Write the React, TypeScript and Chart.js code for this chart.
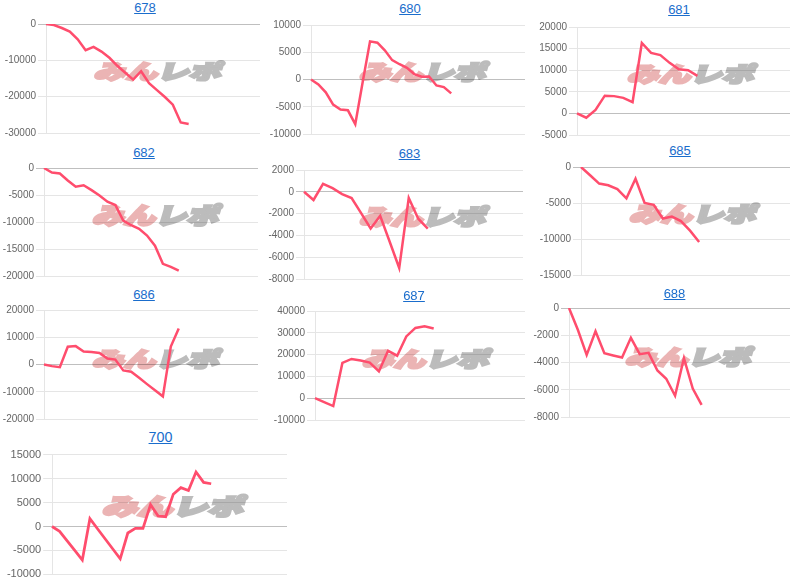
import React, { useEffect, useRef } from "react";
import { Chart, registerables } from "chart.js";

Chart.register(...registerables);

// ---------------- data ----------------
const values678 = [0, -300, -1100, -2100, -4200, -7200, -6300, -7600, -9300, -11500, -13400, -15300, -13000, -16300, -18200, -20100, -22200, -27100, -27500];
const values680 = [0, -900, -2350, -4600, -5500, -5650, -8200, -500, 7000, 6750, 5350, 3550, 2800, 2150, 1000, 500, 550, -1100, -1400, -2550];
const values681 = [0, -1000, 800, 4100, 4000, 3600, 2600, 16300, 14000, 13500, 11700, 10200, 10000, 8700];
const values682 = [0, -850, -1030, -2300, -3450, -3200, -4100, -5100, -6250, -6850, -9750, -10600, -11250, -12500, -14400, -17750, -18300, -19000];
const values683 = [0, -750, 720, 330, -210, -570, -1960, -3370, -2200, -4580, -6990, -570, -2470, -3370];
const values685 = [0, -1150, -2300, -2540, -3080, -4350, -1630, -4980, -5260, -7160, -6890, -7520, -8840, -10420];
const values686 = [0, -600, -960, 6500, 6750, 4800, 4580, 4200, 2170, 1800, -2170, -2650, -4900, -7200, -9450, -11690, 6600, 13250];
const values687 = [0, -1800, -3600, 16200, 18000, 17250, 16350, 12300, 21750, 19500, 28350, 32250, 33000, 31950];
const values688 = [0, -1600, -3440, -1710, -3320, -3480, -3630, -2190, -3390, -3290, -4590, -5190, -6440, -3680, -5910, -7110];
const values700 = [0, -1000, -3000, -5000, -7000, 1630, -470, -2560, -4650, -6750, -1360, -410, -410, 4560, 2180, 2040, 6740, 8100, 7490, 11370, 9200, 8920];

const ticks678 = [0, -10000, -20000, -30000];
const ticks680 = [10000, 5000, 0, -5000, -10000];
const ticks681 = [20000, 15000, 10000, 5000, 0, -5000];
const ticks682 = [0, -5000, -10000, -15000, -20000];
const ticks683 = [2000, 0, -2000, -4000, -6000, -8000];
const ticks685 = [0, -5000, -10000, -15000];
const ticks686 = [20000, 10000, 0, -10000, -20000];
const ticks687 = [40000, 30000, 20000, 10000, 0, -10000];
const ticks688 = [0, -2000, -4000, -6000, -8000];
const ticks700 = [15000, 10000, 5000, 0, -5000, -10000];

// number of (hidden) category slots on each x axis
const slots678 = 28;
const slots680 = 30;
const slots681 = 24;
const slots682 = 28;
const slots683 = 24;
const slots685 = 24;
const slots686 = 28;
const slots687 = 24;
const slots688 = 26;
const slots700 = 32;

const charts = [
  { id: "678", values: values678, ticks: ticks678, slots: slots678 },
  { id: "680", values: values680, ticks: ticks680, slots: slots680 },
  { id: "681", values: values681, ticks: ticks681, slots: slots681 },
  { id: "682", values: values682, ticks: ticks682, slots: slots682 },
  { id: "683", values: values683, ticks: ticks683, slots: slots683 },
  { id: "685", values: values685, ticks: ticks685, slots: slots685 },
  { id: "686", values: values686, ticks: ticks686, slots: slots686 },
  { id: "687", values: values687, ticks: ticks687, slots: slots687 },
  { id: "688", values: values688, ticks: ticks688, slots: slots688 },
  { id: "700", values: values700, ticks: ticks700, slots: slots700 },
];

// ---------------- layout (page px) ----------------
type Frame = { plot: number[]; title: number[]; logo: number[]; k: number };
const frames: Record<string, Frame> = {
  "678": { plot: [46, 23, 260, 134], title: [145, 8], logo: [92, 60, 227, 82], k: 1 },
  "680": { plot: [311, 24, 525, 135], title: [410, 8.3], logo: [357, 60, 492, 83], k: 1 },
  "681": { plot: [577, 26, 790, 136], title: [679, 10], logo: [625, 62, 760, 85], k: 1 },
  "682": { plot: [44, 167, 258, 277], title: [144, 152.3], logo: [90, 202, 225, 227], k: 1 },
  "683": { plot: [304, 169, 523, 280], title: [409.5, 153.3], logo: [357, 204, 492, 228], k: 1 },
  "685": { plot: [581, 166, 790, 276], title: [680, 151], logo: [627, 202, 762, 225], k: 1 },
  "686": { plot: [44, 309, 258, 420], title: [144, 294.7], logo: [90, 347, 225, 370], k: 1 },
  "687": { plot: [315, 310, 525, 421], title: [414, 295.7], logo: [360, 347, 495, 370], k: 1 },
  "688": { plot: [569, 307, 790, 418], title: [674.5, 293.7], logo: [623, 345, 757, 368], k: 1 },
  "700": { plot: [52, 453, 287, 576], title: [160.5, 437], logo: [100, 493, 250, 518], k: 1.1 },
};

const LINE_COLOR = "rgb(255, 77, 109)";
const TITLE_COLOR = "#1a6dcc";
const LOGO_PINK = "#ebb4b4";
const LOGO_GRAY = "#bcbcbc";
const FONT = "'Liberation Sans', Arial, sans-serif";
const PAD = 7;
const PADR = 4;

const logoPlugin = {
  id: "logo",
  beforeDraw(chart: any, _args: any, opts: any) {
    if (!opts || !opts.box) return;
    const ctx = chart.ctx as CanvasRenderingContext2D;
    const [x1, y1, x2, y2] = opts.box;
    const w = x2 - x1;
    const h = y2 - y1;
    const skew = 0.3;
    const lw = 12;
    const A = "みん";
    const B = "レポ";
    ctx.save();
    ctx.font = "900 100px 'Noto Sans CJK JP', sans-serif";
    const m = ctx.measureText(A + B);
    const ma = ctx.measureText(A);
    const inkW = m.actualBoundingBoxLeft + m.actualBoundingBoxRight + lw;
    const inkH = m.actualBoundingBoxAscent + m.actualBoundingBoxDescent + lw;
    const sy = h / inkH;
    const sx = (w - skew * h) / inkW;
    ctx.translate(x1, y2);
    ctx.transform(1, 0, -skew, 1, 0, 0);
    ctx.scale(sx, sy);
    const by = -m.actualBoundingBoxDescent - lw / 2;
    const bx = m.actualBoundingBoxLeft + lw / 2;
    ctx.lineWidth = lw;
    ctx.lineJoin = "miter";
    ctx.fillStyle = LOGO_PINK;
    ctx.strokeStyle = LOGO_PINK;
    ctx.fillText(A, bx, by);
    ctx.strokeText(A, bx, by);
    ctx.fillStyle = LOGO_GRAY;
    ctx.strokeStyle = LOGO_GRAY;
    ctx.fillText(B, bx + ma.width, by);
    ctx.strokeText(B, bx + ma.width, by);
    ctx.restore();
  },
};

function MiniChart({ c, f }: { c: (typeof charts)[number]; f: Frame }) {
  const ref = useRef<HTMLCanvasElement>(null);
  const [L, T, R, B] = f.plot;
  const axw = Math.round(46 * f.k);
  const cl = L - axw;
  const ct = T - PAD;
  const cw = R - L + axw + PADR;
  const chh = B - T + 2 * PAD;

  useEffect(() => {
    if (!ref.current) return;
    const labels = Array.from({ length: c.slots }, (_, i) => String(i + 1));
    const tmin = Math.min(...c.ticks);
    const tmax = Math.max(...c.ticks);
    const box = [f.logo[0] - cl, f.logo[1] - ct, f.logo[2] - cl, f.logo[3] - ct];
    const chart = new Chart(ref.current, {
      type: "line",
      data: {
        labels,
        datasets: [
          {
            data: c.values,
            borderColor: LINE_COLOR,
            backgroundColor: LINE_COLOR,
            borderWidth: 2.5 * f.k,
            pointRadius: 0,
            tension: 0,
            fill: false,
          },
        ],
      },
      options: {
        responsive: false,
        animation: false,
        devicePixelRatio: 1,
        layout: { padding: { left: 0, right: PADR, top: PAD, bottom: PAD } },
        plugins: {
          legend: { display: false },
          tooltip: { enabled: false },
          title: { display: false },
          logo: { box },
        } as any,
        scales: {
          x: { display: false },
          y: {
            min: tmin,
            max: tmax,
            afterFit: (s: any) => {
              s.width = axw;
            },
            afterBuildTicks: (s: any) => {
              s.ticks = c.ticks.map((v) => ({ value: v }));
            },
            ticks: {
              color: "#666",
              padding: 2,
              font: { family: FONT, size: 10 * f.k },
              callback: (v: any) => String(v),
            },
            grid: {
              color: (ctx: any) =>
                ctx.tick && ctx.tick.value === 0 ? "rgba(0,0,0,0.25)" : "rgba(0,0,0,0.1)",
              tickLength: 8 * f.k,
            },
            border: { color: "rgba(0,0,0,0.1)" },
          },
        },
      },
      plugins: [logoPlugin as any],
    });
    return () => chart.destroy();
  }, []);

  return (
    <>
      <div
        style={{
          position: "absolute",
          left: f.title[0] - 40,
          top: f.title[1] - 7.65 * f.k,
          width: 80,
          textAlign: "center",
          fontFamily: FONT,
          fontSize: 13 * f.k,
          lineHeight: `${16 * f.k}px`,
          color: TITLE_COLOR,
          textDecoration: "underline",
        }}
      >
        {c.id}
      </div>
      <canvas
        ref={ref}
        width={cw}
        height={chh}
        style={{ position: "absolute", left: cl, top: ct, width: cw, height: chh }}
      />
    </>
  );
}

export default function App() {
  return (
    <div
      style={{
        position: "absolute",
        left: 0,
        top: 0,
        width: 800,
        height: 583,
        overflow: "hidden",
        background: "#fff",
      }}
    >
      {charts.map((c) => (
        <MiniChart key={c.id} c={c} f={frames[c.id]} />
      ))}
    </div>
  );
}
